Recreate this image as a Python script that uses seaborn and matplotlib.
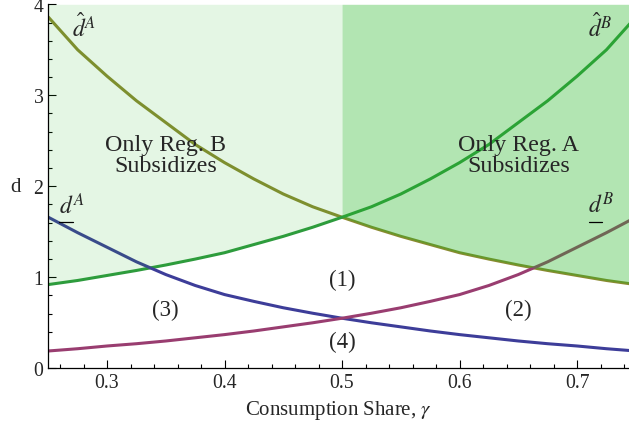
import numpy as np
import pandas as pd
import matplotlib
matplotlib.use("Agg")
import matplotlib.pyplot as plt
from matplotlib.ticker import MultipleLocator
from matplotlib.lines import Line2D
from matplotlib.transforms import IdentityTransform
import seaborn as sns

# Consumption share grid and threshold curves
gamma = [0.250, 0.275, 0.300, 0.325, 0.350, 0.375, 0.400, 0.425, 0.450, 0.475,
         0.500, 0.525, 0.550, 0.575, 0.600, 0.625, 0.650, 0.675, 0.700, 0.725, 0.750]
d_hat_a = [3.86, 3.50, 3.21, 2.94, 2.70, 2.46, 2.26, 2.08, 1.915, 1.775,
           1.66, 1.55, 1.45, 1.36, 1.27, 1.20, 1.135, 1.075, 1.02, 0.965, 0.92]
d_hat_b = [0.92, 0.965, 1.02, 1.075, 1.135, 1.20, 1.27, 1.36, 1.45, 1.55,
           1.66, 1.775, 1.915, 2.08, 2.26, 2.46, 2.70, 2.94, 3.21, 3.50, 3.86]
d_low_a = [1.66, 1.49, 1.33, 1.17, 1.03, 0.91, 0.81, 0.735, 0.665, 0.605,
           0.55, 0.50, 0.455, 0.41, 0.37, 0.335, 0.30, 0.27, 0.245, 0.215, 0.19]
d_low_b = [0.19, 0.215, 0.245, 0.27, 0.30, 0.335, 0.37, 0.41, 0.455, 0.50,
           0.55, 0.605, 0.665, 0.735, 0.81, 0.91, 1.03, 1.17, 1.33, 1.49, 1.66]

x_ticks = [0.3, 0.4, 0.5, 0.6, 0.7]
y_ticks = [0, 1, 2, 3, 4]

region_labels = ["Only Reg. B\nSubsidizes", "Only Reg. A\nSubsidizes"]
region_pos = [(0.35, 2.34), (0.65, 2.34)]
case_labels = ["(1)", "(2)", "(3)", "(4)"]
case_pos = [(0.50, 0.98), (0.65, 0.645), (0.35, 0.645), (0.50, 0.30)]
hat_labels = [r"$\hat{d}^{A}$", r"$\hat{d}^{B}$"]
hat_pos = [(0.2701, 3.65), (0.7096, 3.65)]
low_labels = [r"$d^{A}$", r"$d^{B}$"]
low_pos = [(0.2591, 1.71), (0.7096, 1.71)]

sns.set_style("ticks")
plt.rcParams["font.family"] = ["Liberation Serif", "DejaVu Serif"]
plt.rcParams["mathtext.fontset"] = "stix"

c_hat_a = "#8a8a30"
c_hat_b = "#2f9a3f"
c_low_a = "#3d3d99"
c_low_b = "#993d70"

fig = plt.figure(figsize=(6.29, 4.31), dpi=100)
ax = fig.add_axes([0.0768, 0.1432, 0.9232, 0.8445])

df = pd.DataFrame({"gamma": gamma, "dha": d_hat_a, "dhb": d_hat_b,
                   "dla": d_low_a, "dlb": d_low_b})

for col, c in [("dha", c_hat_a), ("dhb", c_hat_b), ("dla", c_low_a), ("dlb", c_low_b)]:
    sns.lineplot(data=df, x="gamma", y=col, color=c, linewidth=2.2, ax=ax,
                 estimator=None, zorder=2)

# Subsidy regions above the lower of the two hat thresholds
g = np.array(gamma)
lower = np.minimum(df["dha"].values, df["dhb"].values)
fill_rgb = (0.14, 0.71, 0.14)
ax.fill_between(g, lower, 4, where=g <= 0.5, color=fill_rgb, alpha=0.12,
                linewidth=0, zorder=3, interpolate=True)
ax.fill_between(g, lower, 4, where=g >= 0.5, color=fill_rgb, alpha=0.35,
                linewidth=0, zorder=3, interpolate=True)

for txt, (x, y) in zip(region_labels, region_pos):
    ax.text(x, y, txt, ha="center", va="center", fontsize=17.3,
            linespacing=1.0, zorder=5)
for txt, (x, y) in zip(case_labels, case_pos):
    ax.text(x, y, txt, ha="center", va="center", fontsize=16.5, zorder=5)
for txt, (x, y) in zip(hat_labels, hat_pos):
    ax.text(x, y, txt, ha="left", va="baseline", fontsize=17, zorder=5)
for txt, (x, y) in zip(low_labels, low_pos):
    ax.text(x, y, txt, ha="left", va="baseline", fontsize=17, zorder=5)

ax.set_xlim(0.25, 0.7442)
ax.set_ylim(0, 4)
ax.set_xticks(x_ticks)
ax.set_xticklabels([f"{t:.1f}" for t in x_ticks])
ax.set_yticks(y_ticks)
ax.set_yticklabels([str(t) for t in y_ticks])
ax.xaxis.set_minor_locator(MultipleLocator(0.02))
ax.yaxis.set_minor_locator(MultipleLocator(0.2))
ax.tick_params(axis="both", which="major", direction="in", length=5.5,
               width=0.8, labelsize=14.2, pad=3.5, color="black")
ax.tick_params(axis="both", which="minor", direction="in", length=3,
               width=0.8, color="black")

sns.despine(ax=ax)
for s in ["left", "bottom"]:
    ax.spines[s].set_linewidth(0.9)
    ax.spines[s].set_color("black")
    ax.spines[s].set_zorder(6)

ax.set_xlabel(r"Consumption Share, $\gamma$", fontsize=15, labelpad=4.5)
ax.set_ylabel("d", fontsize=15, rotation=0, va="center")
ax.yaxis.set_label_coords(-0.057, 0.5)

# Underline the "d" of the lower-bound labels
fig.canvas.draw()
renderer = fig.canvas.get_renderer()
for (x, y) in low_pos:
    probe = ax.text(x, y, r"$d$", ha="left", va="baseline", fontsize=17, alpha=0)
    bb = probe.get_window_extent(renderer)
    probe.remove()
    fig.add_artist(Line2D([bb.x0 + 0.5, bb.x1 - 0.5], [bb.y0 - 4, bb.y0 - 4],
                          transform=IdentityTransform(), color="black",
                          linewidth=0.9, zorder=7))

fig.savefig("out.png", dpi=100)
